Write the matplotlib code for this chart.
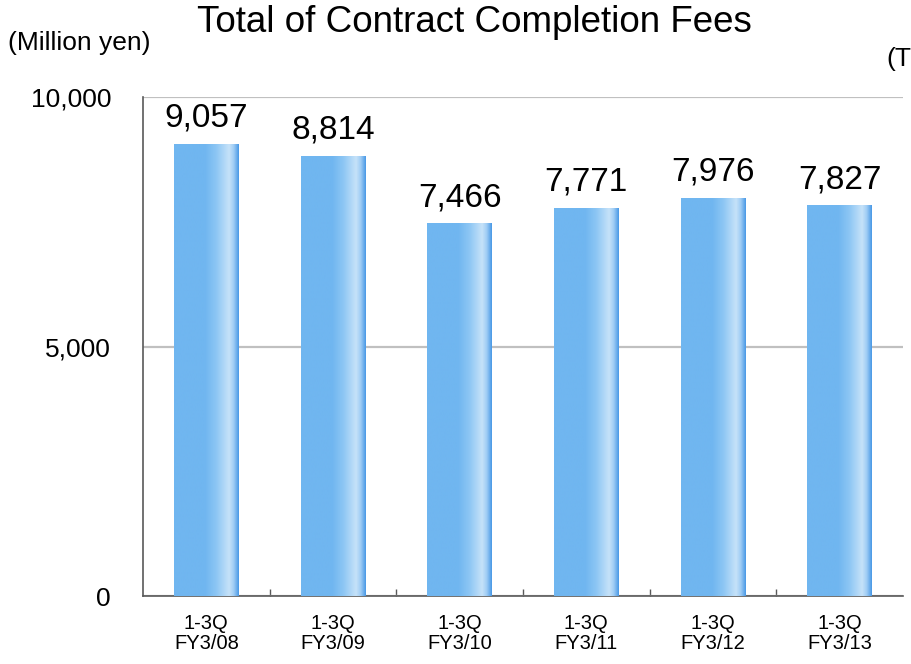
import matplotlib
matplotlib.use("Agg")
import matplotlib.pyplot as plt
import numpy as np
from matplotlib.colors import LinearSegmentedColormap

plt.rcParams['font.family'] = ['Liberation Sans', 'DejaVu Sans']

categories = ["1-3Q\nFY3/08", "1-3Q\nFY3/09", "1-3Q\nFY3/10",
              "1-3Q\nFY3/11", "1-3Q\nFY3/12", "1-3Q\nFY3/13"]
values = [9057, 8814, 7466, 7771, 7976, 7827]
yticks = [0, 5000, 10000]
ytick_labels = ["0", "5,000", "10,000"]

fig = plt.figure(figsize=(9.12, 6.64), dpi=100)
ax = fig.add_axes([143/912, 1-596/664, (903-143)/912, (596-97)/664])

x = np.arange(len(categories))
bars = ax.bar(x, values, width=0.51, color='none', edgecolor='none', zorder=3)

stops = [(0.0, (112/255, 182/255, 240/255)),
         (0.48, (112/255, 182/255, 240/255)),
         (0.65, (140/255, 198/255, 244/255)),
         (0.85, (198/255, 226/255, 249/255)),
         (0.92, (160/255, 205/255, 245/255)),
         (1.0, (72/255, 152/255, 230/255))]
cmap = LinearSegmentedColormap.from_list("barg", stops)
grad = np.linspace(0, 1, 256).reshape(1, -1)

for b in bars:
    x0, w, h = b.get_x(), b.get_width(), b.get_height()
    im = ax.imshow(grad, cmap=cmap, aspect='auto', extent=(x0, x0 + w, 0, h),
                   zorder=3, interpolation='bilinear')
    im.set_clip_path(b)

ax.set_xlim(-0.5, len(categories) - 0.5)
ax.set_ylim(0, 10000)

for xi, v in zip(x, values):
    ax.annotate(f"{v:,}", (xi, v), xytext=(0, 7.5), textcoords='offset points',
                ha='center', va='bottom', fontsize=24, color='black', zorder=5,
                bbox=dict(facecolor='white', edgecolor='none', pad=2))

ax.set_yticks(yticks)
ax.set_yticklabels(ytick_labels, fontsize=19)
ax.tick_params(axis='y', length=0, pad=23)
ax.set_xticks(x)
ax.set_xticklabels(categories, fontsize=14.5, linespacing=1.05)
ax.tick_params(axis='x', which='major', length=0, pad=13)
ax.set_xticks(np.arange(0.5, len(categories) - 0.5, 1), minor=True)
ax.tick_params(axis='x', which='minor', direction='in', length=5, width=1, color='#595959')

ax.grid(axis='y', color='#c0c0c0', linewidth=1.6, zorder=0)
ax.set_axisbelow(True)
for s in ['top', 'right']:
    ax.spines[s].set_visible(False)
for s in ['left', 'bottom']:
    ax.spines[s].set_color('#595959')
    ax.spines[s].set_linewidth(1.2)

fig.text(474/912, 1 - 23/664, "Total of Contract Completion Fees", ha='center', va='center', fontsize=26.5)
fig.text(8/912, 1 - 43/664, "(Million yen)", ha='left', va='center', fontsize=19)
fig.text(911/912, 1 - 59/664, "(T", ha='right', va='center', fontsize=19)

fig.savefig("out.png", dpi=100)
